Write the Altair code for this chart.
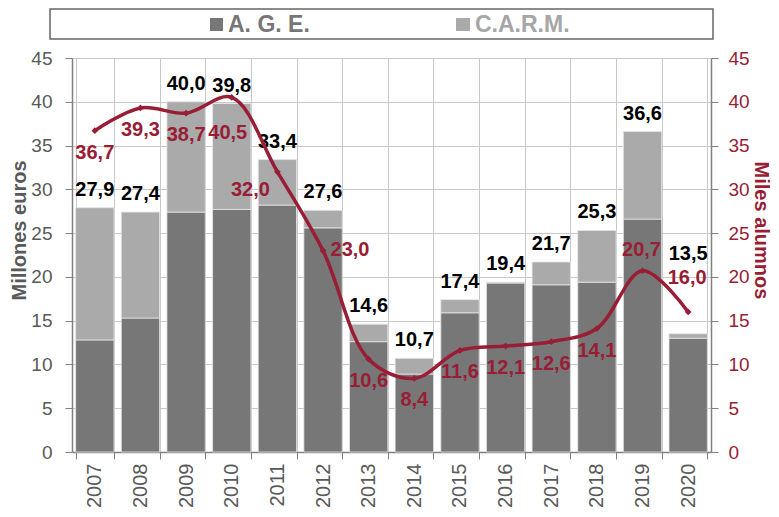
import altair as alt
import pandas as pd

years = ["2007", "2008", "2009", "2010", "2011", "2012", "2013",
         "2014", "2015", "2016", "2017", "2018", "2019", "2020"]
total = [27.9, 27.4, 40.0, 39.8, 33.4, 27.6, 14.6, 10.7, 17.4, 19.4, 21.7, 25.3, 36.6, 13.5]
age = [12.8, 15.3, 27.4, 27.7, 28.2, 25.6, 12.6, 8.9, 15.9, 19.3, 19.1, 19.4, 26.6, 13.0]
alumnos = [36.7, 39.3, 38.7, 40.5, 32.0, 23.0, 10.6, 8.4, 11.6, 12.1, 12.6, 14.1, 20.7, 16.0]
carm = [round(t - a, 1) for t, a in zip(total, age)]

# label placement codes (style only)
line_place = ["b", "b", "b", "bb", "bl", "r", "b", "b", "b", "b", "b", "b", "a", "aa"]
total_place = ["n"] * 13 + ["high"]

RED = "#981d35"
GREY_TXT = "#595959"
DARK = "#777777"
LIGHT = "#aaaaaa"
FONT = "Liberation Sans"

bars_df = pd.DataFrame({
    "year": years * 2,
    "serie": ["A. G. E."] * len(years) + ["C.A.R.M."] * len(years),
    "ord": [0] * len(years) + [1] * len(years),
    "value": age + carm,
})
main_df = pd.DataFrame({
    "year": years, "total": total, "alumnos": alumnos,
    "lp": line_place, "tp": total_place,
})

xenc = alt.X("year:N", title=None, sort=years,
             scale=alt.Scale(paddingInner=0.16, paddingOuter=0.08),
             axis=alt.Axis(labelAngle=-90, labelFontSize=20, labelColor=GREY_TXT,
                           labelFont=FONT, tickBand="extent", grid=True,
                           gridColor="#c8c8c8", gridWidth=1, tickColor="#808080",
                           tickSize=7, labelPadding=4, domainColor="#808080",
                           domainWidth=1.5))

yleft_scale = alt.Scale(domain=[0, 45], nice=False)
yright_scale = alt.Scale(domain=[0, 45], nice=False)

bars = alt.Chart(bars_df).mark_bar(stroke="#e6e6e6", strokeWidth=0.8).encode(
    x=xenc,
    y=alt.Y("value:Q", stack="zero", scale=yleft_scale,
            axis=alt.Axis(orient="left", title="Millones euros", values=list(range(0, 46, 5)),
                          labelFontSize=19, labelColor=GREY_TXT, labelFont=FONT,
                          titleFontSize=20, titleColor=GREY_TXT, titleFont=FONT,
                          titleFontWeight="bold", titleAngle=-90, titleX=-53, titleY=172,
                          titleAlign="center", titleBaseline="middle",
                          grid=True, gridColor="#c8c8c8", gridWidth=1,
                          tickColor="#808080", tickSize=7, labelPadding=13,
                          domainColor="#808080", domainWidth=1.5)),
    color=alt.Color("serie:N", scale=alt.Scale(domain=["A. G. E.", "C.A.R.M."],
                                               range=[DARK, LIGHT]), legend=None),
    order=alt.Order("ord:Q"),
)

lab_expr_t = "replace(format(datum.total, '.1f'), '.', ',')"
lab_expr_a = "replace(format(datum.alumnos, '.1f'), '.', ',')"

total_layers = []
for code, dy in [("n", -12), ("high", -74)]:
    total_layers.append(
        alt.Chart(main_df).transform_filter(alt.datum.tp == code)
        .transform_calculate(lab=lab_expr_t)
        .mark_text(fontSize=20, fontWeight="bold", font=FONT, color="black",
                   baseline="alphabetic", dy=dy)
        .encode(x=alt.X("year:N", sort=years), y=alt.Y("total:Q", scale=yleft_scale),
                text="lab:N")
    )

left = alt.layer(bars, *total_layers)

line = alt.Chart(main_df).mark_line(color=RED, strokeWidth=3.5, interpolate="catmull-rom").encode(
    x=alt.X("year:N", sort=years),
    y=alt.Y("alumnos:Q", scale=yright_scale,
            axis=alt.Axis(orient="right", title="Miles alumnos", values=list(range(0, 46, 5)),
                          labelFontSize=19, labelColor=RED, labelFont=FONT,
                          titleFontSize=20, titleColor=RED, titleFont=FONT,
                          titleFontWeight="bold", titleAngle=90, titleX=49, titleY=172,
                          titleAlign="center", titleBaseline="middle",
                          grid=False, tickColor="#808080", tickSize=7, labelPadding=10,
                          domainColor="#808080", domainWidth=1.5)),
)
pts = alt.Chart(main_df).mark_point(shape="diamond", filled=True, color=RED, size=45, opacity=1).encode(
    x=alt.X("year:N", sort=years), y=alt.Y("alumnos:Q", scale=yright_scale))

line_layers = []
for code, dx, dy in [("b", 0, 22), ("bb", -4, 36), ("bl", -27, 18), ("r", 27, -1),
                     ("a", -1, -21), ("aa", -1, -34)]:
    line_layers.append(
        alt.Chart(main_df).transform_filter(alt.datum.lp == code)
        .transform_calculate(lab=lab_expr_a)
        .mark_text(fontSize=20, fontWeight="bold", font=FONT, color=RED,
                   baseline="middle", dx=dx, dy=dy)
        .encode(x=alt.X("year:N", sort=years), y=alt.Y("alumnos:Q", scale=yright_scale),
                text="lab:N")
    )

right = alt.layer(line, pts, *line_layers)

one = pd.DataFrame({"k": [0]})
legend_box = alt.Chart(one).mark_rect(fill="white", stroke="#666666", strokeWidth=1.5).encode(
    x=alt.value(-22), x2=alt.value(641), y=alt.value(-49), y2=alt.value(-19))
sq1 = alt.Chart(one).mark_rect(fill=DARK).encode(
    x=alt.value(138), x2=alt.value(151), y=alt.value(-40), y2=alt.value(-27))
sq2 = alt.Chart(one).mark_rect(fill=LIGHT).encode(
    x=alt.value(384), x2=alt.value(398), y=alt.value(-40), y2=alt.value(-27))
t1 = alt.Chart(one).mark_text(text="A. G. E.", fontSize=23, fontWeight="bold", font=FONT,
                              color="#767676", align="left", baseline="alphabetic").encode(
    x=alt.value(156), y=alt.value(-26))
t2 = alt.Chart(one).mark_text(text="C.A.R.M.", fontSize=23, fontWeight="bold", font=FONT,
                              color="#a6a6a6", align="left", baseline="alphabetic").encode(
    x=alt.value(403), y=alt.value(-26))

chart = alt.layer(left, right, legend_box, sq1, sq2, t1, t2).resolve_scale(
    y="independent"
).properties(
    width=639, height=394,
    autosize=alt.AutoSizeParams(type="none"),
    padding={"left": 64, "top": 50, "right": 60, "bottom": 56},
).configure_view(stroke=None).configure(background="white")

chart.save("out.html", embed_options={"renderer": "svg", "actions": False})
